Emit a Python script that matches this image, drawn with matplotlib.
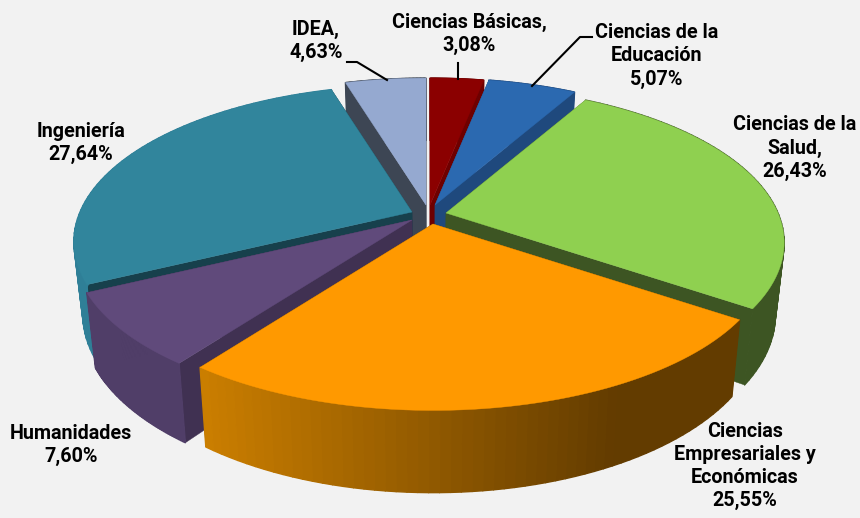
import numpy as np
import matplotlib
matplotlib.use('Agg')
import matplotlib.pyplot as plt
from matplotlib.collections import PolyCollection
from matplotlib.colors import to_rgb
from matplotlib.patches import Polygon

categories = ['Ciencias Básicas', 'Ciencias de la Educación', 'Ciencias de la Salud',
              'Ciencias Empresariales y Económicas', 'Humanidades', 'Ingeniería', 'IDEA']
values = [3.08, 5.07, 26.43, 25.55, 7.60, 27.64, 4.63]
top_colors = ['#8b0000', '#2b69b0', '#8fd050', '#ff9900', '#604a7b', '#31859c', '#95a9d0']
edge_colors = ['#6e0000', '#1f497d', '#3d5523', '#664000', '#403152', '#17404c', '#3d4654']
rim_left = ['#6e0000', '#1f497d', '#3d5523', '#cc7f00', '#503e68', '#2f7f97', '#3d4654']
rim_right = ['#6e0000', '#1f497d', '#3d5523', '#633c00', '#46365a', '#2f7f97', '#3d4654']

# apex of each exploded slice, in pixels
apex_x = [430, 435, 446, 433, 412, 412, 426]
apex_y = [205, 205, 213, 224, 220, 212, 205]
draw_order = [6, 0, 1, 5, 2, 4, 3]

# perspective of the disc
RX = 332
RY = 151
K = 0.19


def rim_xy(i, t):
    u, v = np.sin(t), np.cos(t)
    d = 1 + K * v
    return apex_x[i] + RX * u / d, apex_y[i] - RY * v / d


def lower(x, y):
    return 430 + (x - 430) * 0.975, y + 71 + 0.06 * (y - 223)


def mix(c1, c2, f):
    a, b = np.array(to_rgb(c1)), np.array(to_rgb(c2))
    return tuple(a + (b - a) * f)


fig = plt.figure(figsize=(8.6, 5.18), dpi=100, facecolor='#f2f2f2')
ax = fig.add_axes([0, 0, 1, 1])
ax.set_xlim(0, 860)
ax.set_ylim(518, 0)
ax.axis('off')

fracs = np.cumsum([0] + values) / sum(values)
for i in draw_order:
    ts = np.linspace(fracs[i], fracs[i + 1], 60) * 2 * np.pi
    xs, ys = rim_xy(i, ts)
    bx, by = lower(xs, ys)
    ax0, ay0 = apex_x[i], apex_y[i]
    bx0, by0 = lower(ax0, ay0)

    # radial walls
    for j in [0, -1]:
        ax.add_patch(Polygon([(ax0, ay0), (xs[j], ys[j]), (bx[j], by[j]), (bx0, by0)],
                             closed=True, fc=edge_colors[i], ec=edge_colors[i], lw=0.3))

    # outer wall, shaded from left to right
    quads = []
    cols = []
    for j in range(len(ts) - 1):
        quads.append([(xs[j], ys[j]), (xs[j + 1], ys[j + 1]), (bx[j + 1], by[j + 1]), (bx[j], by[j])])
        f = np.clip((xs[j] - 200) / 420, 0, 1)
        cols.append(mix(rim_left[i], rim_right[i], f))
    ax.add_collection(PolyCollection(quads, facecolors=cols, edgecolors=cols, linewidths=1.0))

    # top face
    pts = [(ax0, ay0)] + list(zip(xs, ys))
    ax.add_patch(Polygon(pts, closed=True, fc=top_colors[i], ec=top_colors[i], lw=0.3))

# leader lines
ax.plot([347, 357, 387], [62, 62, 80], color='black', lw=1.5)
ax.plot([458, 458], [63, 79], color='black', lw=1.5)
ax.plot([592, 580, 532], [37, 37, 86], color='black', lw=1.5)

labels = [
    ('Ciencias Básicas,\n3,08%', 469, 34),
    ('Ciencias de la\nEducación\n5,07%', 657, 56),
    ('Ciencias de la\nSalud,\n26,43%', 795, 148),
    ('Ciencias\nEmpresariales y\nEconómicas\n25,55%', 745, 466),
    ('Humanidades\n7,60%', 71, 445),
    ('Ingeniería\n27,64%', 81, 143),
    ('IDEA,\n4,63%', 316, 41),
]
for txt, x, y in labels:
    ax.text(x, y, txt, ha='center', va='center', fontsize=14.2, fontweight='bold',
            family='Roboto', color='black', linespacing=1.28)

fig.savefig('out.png', dpi=100, facecolor=fig.get_facecolor())
